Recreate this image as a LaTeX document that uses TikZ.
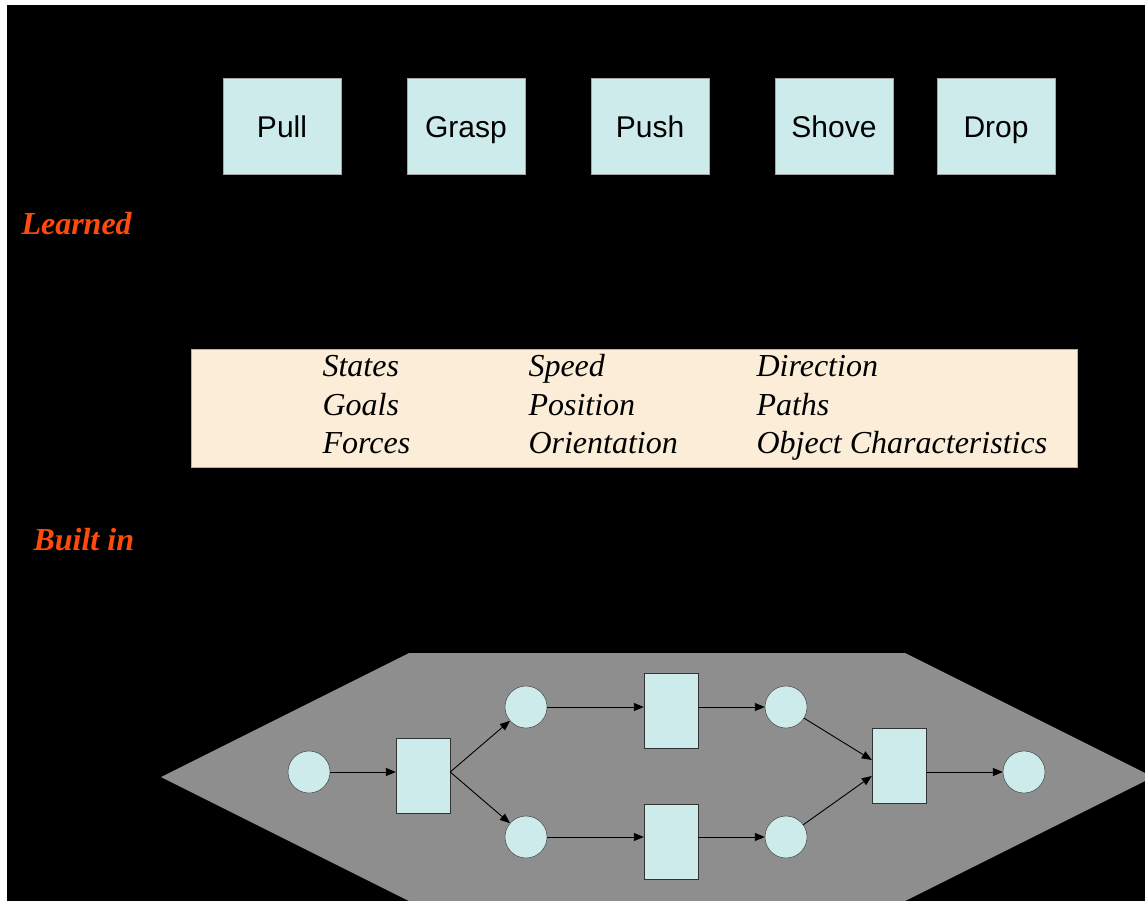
\documentclass[tikz,border=0pt]{standalone}
\usepackage{fontspec}
\setmainfont{Liberation Serif}
\newfontfamily\boxfont{Liberation Sans}
\usepackage{tikz}
\usetikzlibrary{arrows.meta}

\definecolor{boxcyan}{HTML}{CDEBEB}
\definecolor{beige}{HTML}{FBEDD8}
\definecolor{hexgray}{HTML}{8E8E8E}
\definecolor{labelred}{HTML}{FF4A0E}

\tikzset{
  actbox/.style={draw=gray!70, fill=boxcyan, minimum width=118pt, minimum height=96pt,
    inner sep=0pt, text height=30pt, text depth=6pt, font=\boxfont\fontsize{30}{36}\selectfont},
  place/.style={circle, draw=black!80, fill=boxcyan, minimum size=42pt, inner sep=0pt},
  trans/.style={draw=black!80, fill=boxcyan, minimum width=54pt, minimum height=75pt, inner sep=0pt},
  flow/.style={-{Triangle[length=10pt,width=8pt]}, line width=0.9pt},
  side/.style={anchor=base west, text=labelred, font=\bfseries\itshape\fontsize{32}{38}\selectfont},
  cue/.style={anchor=base west, font=\itshape\fontsize{32}{38}\selectfont}
}

\begin{document}
\begin{tikzpicture}[x=1pt,y=-1pt]
\useasboundingbox (0,0) rectangle (1145,901);
\fill [white] (0,0) rectangle (1145,901);
\fill [black] (7,5) rectangle (1145,901);

% learned actions
\node [actbox] (pull) at (282,126) {Pull};
\node [actbox] (grasp) at (466,126) {Grasp};
\node [actbox] (push) at (650,126) {Push};
\node [actbox] (shove) at (834,126) {Shove};
\node [actbox] (drop) at (996,126) {Drop};

\node [side] (learned) at (18,235) {Learned};
\node [side] (builtin) at (30,550) {Built in};

% built in cues
\fill [beige, draw=gray!60] (191,349) rectangle (1077,467);
\node [cue] (states) at (319,376) {States};
\node [cue] (goals) at (319,415) {Goals};
\node [cue] (forces) at (319,453) {Forces};
\node [cue] (speed) at (525,376) {Speed};
\node [cue] (position) at (525,415) {Position};
\node [cue] (orient) at (525,453) {Orientation};
\node [cue] (direction) at (753,376) {Direction};
\node [cue] (paths) at (753,415) {Paths};
\node [cue] (objchar) at (753,453) {Object Characteristics};

% net
\begin{scope}
\clip (0,0) rectangle (1145,901);
\fill [hexgray] (161,777) -- (409,653) -- (905,653) -- (1153,777) -- (905,901) -- (409,901) -- cycle;
\end{scope}

\node [place] (p1) at (309,772) {};
\node [trans] (t1) at (423,776) {};
\node [place] (p2) at (526,707) {};
\node [place] (p3) at (526,837) {};
\node [trans] (t2) at (671,711) {};
\node [trans] (t3) at (671,842) {};
\node [place] (p4) at (786,707) {};
\node [place] (p5) at (786,837) {};
\node [trans] (t4) at (899,766) {};
\node [place] (p6) at (1024,772) {};

\draw [flow] (p1) -- (t1.west |- p1);
\draw [flow] (t1.east |- p1) -- (p2);
\draw [flow] (t1.east |- p1) -- (p3);
\draw [flow] (p2) -- (t2.west |- p2);
\draw [flow] (p3) -- (t3.west |- p3);
\draw [flow] (t2.east |- p2) -- (p4);
\draw [flow] (t3.east |- p3) -- (p5);
\draw [flow] (p4) -- (t4.west |- 0,760);
\draw [flow] (p5) -- (t4.west |- 0,776);
\draw [flow] (t4.east |- p6) -- (p6);
\end{tikzpicture}
\end{document}
